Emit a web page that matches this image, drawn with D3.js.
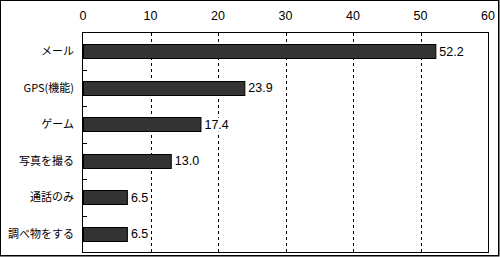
<!DOCTYPE html>
<html lang="ja">
<head>
<meta charset="UTF-8">
<title>chart</title>
<script src="https://cdn.jsdelivr.net/npm/d3@7"></script>
<style>
  body { margin: 0; background: #fff; }
  text { font-family: "Noto Sans CJK JP", sans-serif; font-size: 11px; fill: #000; }
  text.num { font-family: "Liberation Sans Narrow", "Liberation Sans", sans-serif; font-size: 12.5px; }
</style>
</head>
<body>
<div id="chart"></div>
<script>
    // data
    const categories = ["メール", "GPS(機能)", "ゲーム", "写真を撮る", "通話のみ", "調べ物をする"];
    const values = [52.2, 23.9, 17.4, 13.0, 6.5, 6.5];
    const xTicks = [0, 10, 20, 30, 40, 50, 60];

    const width = 500, height = 257;
    const plot = {left: 83, right: 488, top: 33, bottom: 252};

    const svg = d3.select("#chart").append("svg")
        .attr("width", width)
        .attr("height", height);

    // outer frame
    svg.append("rect")
        .attr("x", 0.5).attr("y", 0.5)
        .attr("width", width - 1.5).attr("height", height - 1.5)
        .attr("fill", "#fff")
        .attr("stroke", "#000")
        .attr("stroke-width", 1);
    svg.append("line")
        .attr("x1", 1).attr("x2", width - 1)
        .attr("y1", height - 1.5).attr("y2", height - 1.5)
        .attr("stroke", "#000");
    svg.append("line")
        .attr("x1", width - 1.5).attr("x2", width - 1.5)
        .attr("y1", 1).attr("y2", height - 1)
        .attr("stroke", "#000");

    const x = d3.scaleLinear().domain([0, 60]).range([plot.left, plot.right]);
    const y = d3.scaleBand().domain(categories).range([plot.top, plot.bottom]).paddingInner(0.62).paddingOuter(0.31);
    const yBand = d3.scaleBand().domain(categories).range([plot.top, plot.bottom]);

    // grid lines
    svg.selectAll(".grid")
        .data(xTicks.filter(d => d > 0 && d < 60))
        .enter()
        .append("line")
        .attr("x1", d => Math.round(x(d)) + 0.5)
        .attr("x2", d => Math.round(x(d)) + 0.5)
        .attr("y1", plot.top)
        .attr("y2", plot.bottom)
        .attr("stroke", "#000")
        .attr("stroke-dasharray", "3,3");

    // x tick labels on top
    svg.selectAll(".xlab")
        .data(xTicks)
        .enter()
        .append("text")
        .attr("class", "num")
        .attr("x", d => x(d))
        .attr("y", 20)
        .attr("text-anchor", "middle")
        .text(d => d);

    // bars
    svg.selectAll(".bar")
        .data(values)
        .enter()
        .append("rect")
        .attr("x", x(0) + 0.5)
        .attr("y", (d, i) => Math.round(y(categories[i])) + 0.5)
        .attr("width", d => x(d) - x(0))
        .attr("height", Math.round(y.bandwidth()))
        .attr("fill", "#333333")
        .attr("stroke", "#000")
        .attr("stroke-width", 1);

    // value labels, with white box behind so gridlines stop at the text
    const vlab = svg.selectAll(".vlab")
        .data(values)
        .enter()
        .append("g");
    vlab.append("rect")
        .attr("fill", "#fff");
    vlab.append("text")
        .attr("class", "num")
        .attr("x", d => x(d) + 4)
        .attr("y", (d, i) => yBand(categories[i]) + yBand.bandwidth() / 2 + 4.5)
        .text(d => d.toFixed(1));
    vlab.each(function() {
        const b = d3.select(this).select("text").node().getBBox();
        d3.select(this).select("rect")
            .attr("x", b.x - 1).attr("y", b.y)
            .attr("width", b.width + 2).attr("height", b.height);
    });

    // category labels
    svg.selectAll(".clab")
        .data(categories)
        .enter()
        .append("text")
        .attr("x", 74)
        .attr("y", d => yBand(d) + yBand.bandwidth() / 2 + 4)
        .attr("text-anchor", "end")
        .text(d => d);

    // plot frame
    svg.append("rect")
        .attr("x", plot.left - 0.5).attr("y", plot.top - 0.5)
        .attr("width", plot.right - plot.left + 1).attr("height", plot.bottom - plot.top + 1)
        .attr("fill", "none")
        .attr("stroke", "#000");

    // category ticks on left axis (pointing inward)
    svg.selectAll(".ytick")
        .data(categories.slice(1))
        .enter()
        .append("line")
        .attr("x1", plot.left)
        .attr("x2", plot.left + 4)
        .attr("y1", d => Math.round(yBand(d)) + 0.5)
        .attr("y2", d => Math.round(yBand(d)) + 0.5)
        .attr("stroke", "#000");
</script>
</body>
</html>
